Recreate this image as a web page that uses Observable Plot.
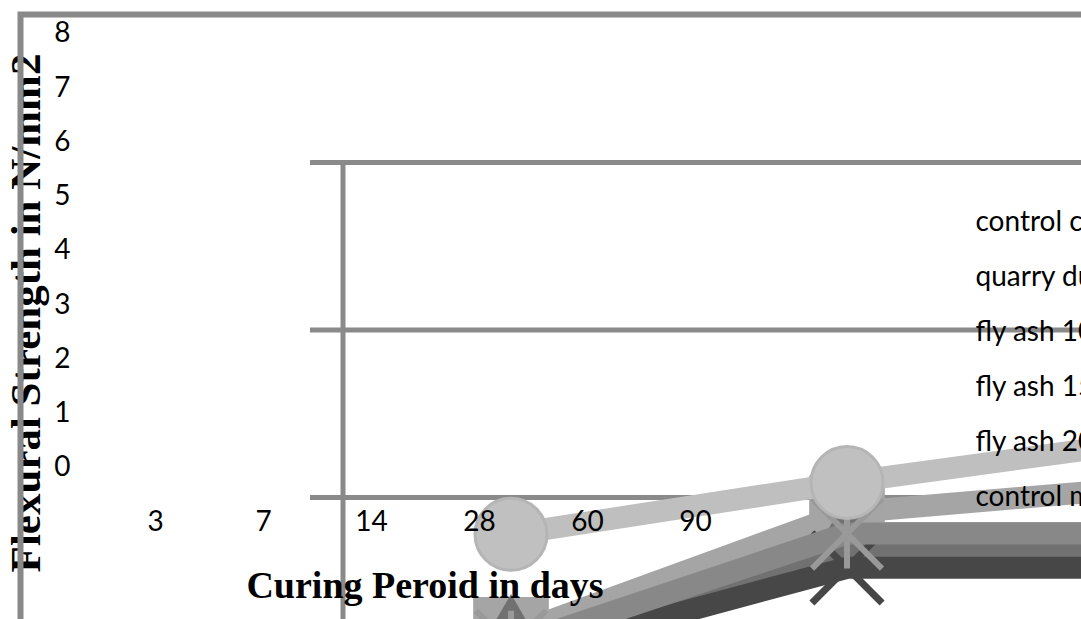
<!DOCTYPE html>
<html>
<head>
<meta charset="utf-8">
<script src="https://cdn.jsdelivr.net/npm/d3@7"></script>
<script src="https://cdn.jsdelivr.net/npm/@observablehq/plot@0.6"></script>
<style>
html, body { margin: 0; padding: 0; background: #fff; overflow: hidden; }
#chart { position: relative; width: 1081px; height: 619px; overflow: hidden; background: #fff; }
#chart svg { position: absolute; left: 0; top: 0; overflow: hidden; max-width: none; }
</style>
</head>
<body>
<div id="chart"></div>
<script>
// ---- data ----
const days = ["3", "7", "14", "28", "60", "90"];
const yTicks = [0, 1, 2, 3, 4, 5, 6, 7, 8];
const gridTicks = [2, 4, 6];
const seriesNames = ["control concrete", "quarry dust concrete", "fly ash 10%", "fly ash 15%", "fly ash 20%", "control mix"];
const controlConcrete = [0.17, 1.57, 1.57, 1.9, 2.2, 2.4];
const quarryDust      = [0.36, 1.82, 2.16, 2.4, 2.6, 2.8];
const flyAsh10        = [0.23, 1.39, 1.39, 1.7, 2.0, 2.2];
const flyAsh15        = [0.08, 1.16, 1.16, 1.5, 1.8, 2.0];
const flyAsh20        = [0.23, 1.57, 1.57, 1.8, 2.1, 2.3];
const controlMix      = [1.56, 2.18, 2.73, 3.1, 3.4, 3.6];
const xTitle = "Curing Peroid in days";
const yTitle = "Flexural Strength in N/mm2";

const seriesValues = [controlConcrete, quarryDust, flyAsh10, flyAsh15, flyAsh20, controlMix];
const rows = seriesNames.flatMap((s, i) => days.map((d, j) => ({series: s, idx: j, day: d, value: seriesValues[i][j]})));

// ---- styles ----
const W = 1081, H = 619;
const colors = ["#404040", "#a5a5a5", "#717171", "#474747", "#888888", "#bfbfbf"];
const excelStar = {
  draw(context, size) {
    const r = Math.sqrt(size / Math.PI);
    context.moveTo(-r, -r); context.lineTo(r, r);
    context.moveTo(-r, r); context.lineTo(r, -r);
    context.moveTo(0, -r); context.lineTo(0, r);
  }
};
const markerStyles = [
  {symbol: "diamond2", r: 30, fill: colors[0], stroke: colors[0], strokeWidth: 2},
  {symbol: "square", r: 41, fill: colors[1], stroke: colors[1], strokeWidth: 3, strokeLinejoin: "round"},
  {symbol: "triangle", r: 32, fill: colors[2], stroke: colors[2], strokeWidth: 2},
  {symbol: "times", r: 32, fill: "none", stroke: colors[3], strokeWidth: 7},
  {symbol: excelStar, r: 35, fill: "none", stroke: "#999999", strokeWidth: 6},
  {symbol: "circle", r: 36, fill: "#c0c0c0", stroke: "#b5b5b5", strokeWidth: 3}
];
const sans = "Lato, 'Open Sans', sans-serif";
const serif = "'Liberation Serif', 'Times New Roman', serif";
const xDomain = [-0.5, days.length - 0.5];

// ---- inner plot area (grid, series) ----
const seriesMarks = seriesNames.flatMap((s, i) => {
  const data = rows.filter(r => r.series === s);
  return [
    Plot.line(data, {x: "idx", y: "value", stroke: colors[i], strokeWidth: 22, strokeLinejoin: "round"}),
    Plot.dot(data, {x: "idx", y: "value", ...markerStyles[i]})
  ];
});

const inner = Plot.plot({
  width: W, height: H,
  marginLeft: 310, marginRight: 0, marginTop: 0, marginBottom: 0,
  x: {type: "linear", domain: xDomain, range: [342.5, 342.5 + 336 * days.length], axis: null},
  y: {domain: [0, 8], range: [664.5, -5.5], axis: null},
  style: {background: "white", overflow: "hidden"},
  marks: [
    Plot.ruleY(gridTicks, {stroke: "#8a8a8a", strokeWidth: 5}),
    Plot.ruleX([xDomain[0]], {y1: d3.max(gridTicks), y2: 0, stroke: "#8a8a8a", strokeWidth: 5}),
    ...seriesMarks
  ]
});

// ---- outer axes, titles and chart border ----
const outer = Plot.plot({
  width: W, height: H,
  marginLeft: 70, marginTop: 14, marginRight: 0, marginBottom: 108,
  x: {type: "point", domain: days, range: [154, 696], padding: 0},
  y: {domain: [0, 8], range: [467, 33]},
  style: {background: "transparent", overflow: "hidden"},
  marks: [
    Plot.axisY({ticks: yTicks, tickSize: 0, tickPadding: 0, label: null, fontSize: 28, fontFamily: sans, fill: "#000"}),
    Plot.axisX({anchor: "bottom", tickSize: 0, tickPadding: 0, label: null, fontSize: 28, fontFamily: sans, fill: "#000"}),
    Plot.text([yTitle], {frameAnchor: "top-left", dx: -44.4, dy: 298.5, rotate: -90, textAnchor: "middle", lineAnchor: "middle",
      fontSize: 43, fontWeight: "bold", fontFamily: serif, fill: "#000"}),
    Plot.text([xTitle], {frameAnchor: "top-left", dx: 354.5, dy: 571.8, textAnchor: "middle", lineAnchor: "middle",
      fontSize: 38, fontWeight: "bold", fontFamily: serif, fill: "#000"}),
    Plot.frame({stroke: "#898989", strokeWidth: 6, insetLeft: -50, insetRight: -10, insetBottom: -118})
  ]
});

// ---- legend ----
const legend = Plot.plot({
  width: W, height: H,
  marginLeft: 975, marginRight: 0, marginTop: 0, marginBottom: 0,
  y: {type: "point", domain: seriesNames, range: [220, 499], padding: 0, axis: null},
  style: {background: "transparent", overflow: "hidden"},
  marks: [
    Plot.text(seriesNames, {y: d => d, frameAnchor: "left", textAnchor: "start", lineAnchor: "middle",
      fontSize: 28, fontFamily: sans, fill: "#000"})
  ]
});

const chart = document.getElementById("chart");
chart.append(inner, outer, legend);
</script>
</body>
</html>
